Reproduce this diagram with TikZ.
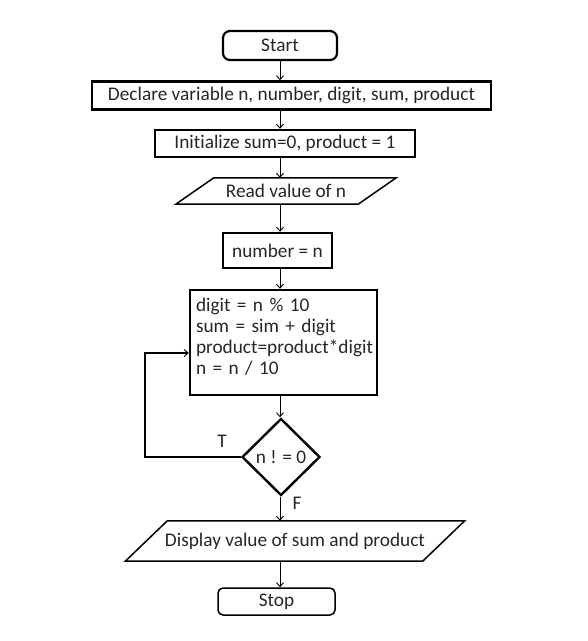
\documentclass[tikz,border=0pt]{standalone}
\usepackage{fontspec}
\setmainfont{Carlito}[Ligatures=NoCommon]
\usetikzlibrary{shapes.geometric,arrows.meta,calc}
\begin{document}
\begin{tikzpicture}[x=1pt,y=-1pt,
  every node/.style={font=\fontsize{19.3}{21}\selectfont, text=black!85},
  boxthick/.style={draw, line width=2.4pt, inner sep=0pt},
  roundbox/.style={draw, rounded corners=7pt, line width=2.2pt, inner sep=0pt},
  stopbox/.style={draw, rounded corners=5pt, line width=1.5pt, inner sep=0pt},
  paratext/.style={inner sep=0pt},
  paraline/.style={line width=1.5pt, line join=miter},
  decbox/.style={draw, shape=diamond, line width=2.4pt, inner sep=0pt, minimum width=78pt, minimum height=77pt},
  arr/.style={line width=0.9pt, -{Straight Barb[length=4pt,width=7pt]}},
  looparr/.style={line width=2.2pt, -{Straight Barb[length=4pt,width=7pt,line width=0.9pt]}},
  lbl/.style={inner sep=0pt}
]
\useasboundingbox (0,0) rectangle (588,641);

\node[roundbox, minimum width=114pt, minimum height=29pt] (start) at (280,45.5) {Start};
\node[boxthick, minimum width=399pt, minimum height=28pt] (declare) at (291.5,95.5) {Declare variable n, number, digit, sum, product};
\node[boxthick, minimum width=260pt, minimum height=27pt] (init) at (285,143.5) {Initialize sum=0, product = 1};
\node[paratext, minimum width=182pt, minimum height=26pt] (read) at (286,191) {Read value of n};
\draw[paraline] ([xshift=-19pt]read.south west) -- ([xshift=19pt]read.north west) -- ([xshift=19pt]read.north east) -- ([xshift=-19pt]read.south east) -- cycle;
\node[boxthick, minimum width=109pt, minimum height=35pt] (number) at (277.5,250.5) {number = n};
\node[boxthick, minimum width=187pt, minimum height=105pt, text width=175pt, align=left, inner xsep=6pt] (calc) at (283.5,342.5) {digit = n \% 10\\sum = sim + digit\\product=product*digit\\n = n / 10\\[-8pt]\mbox{}};
\node[decbox] (dec) at (281,457) {n ! = 0};
\node[paratext, minimum width=297pt, minimum height=40pt] (disp) at (295,541) {Display value of sum and product};
\draw[paraline] ([xshift=-21pt]disp.south west) -- ([xshift=21pt]disp.north west) -- ([xshift=21pt]disp.north east) -- ([xshift=-21pt]disp.south east) -- cycle;
\node[stopbox, minimum width=117pt, minimum height=27pt] (stop) at (276.5,601.5) {Stop};

\coordinate (loopx) at (145,457);
\draw[arr] (start.south) -- (declare.north -| start);
\draw[arr] (declare.south -| start) -- (init.north -| start);
\draw[arr] (init.south -| start) -- (read.north -| start);
\draw[arr] (read.south -| start) -- (number.north -| start);
\draw[arr] (number.south -| start) -- (calc.north -| start);
\draw[arr] (calc.south -| start) -- (dec.north -| start);
\draw[arr] (dec.south -| start) -- (disp.north -| start);
\draw[arr] (disp.south -| start) -- (stop.north -| start);
\draw[looparr] (dec.west) -- (loopx) |- ([yshift=-10.5pt]calc.west);

\node[lbl] (tl) at (222,441) {T};
\node[lbl] (fl) at (297,503) {F};
\end{tikzpicture}
\end{document}
